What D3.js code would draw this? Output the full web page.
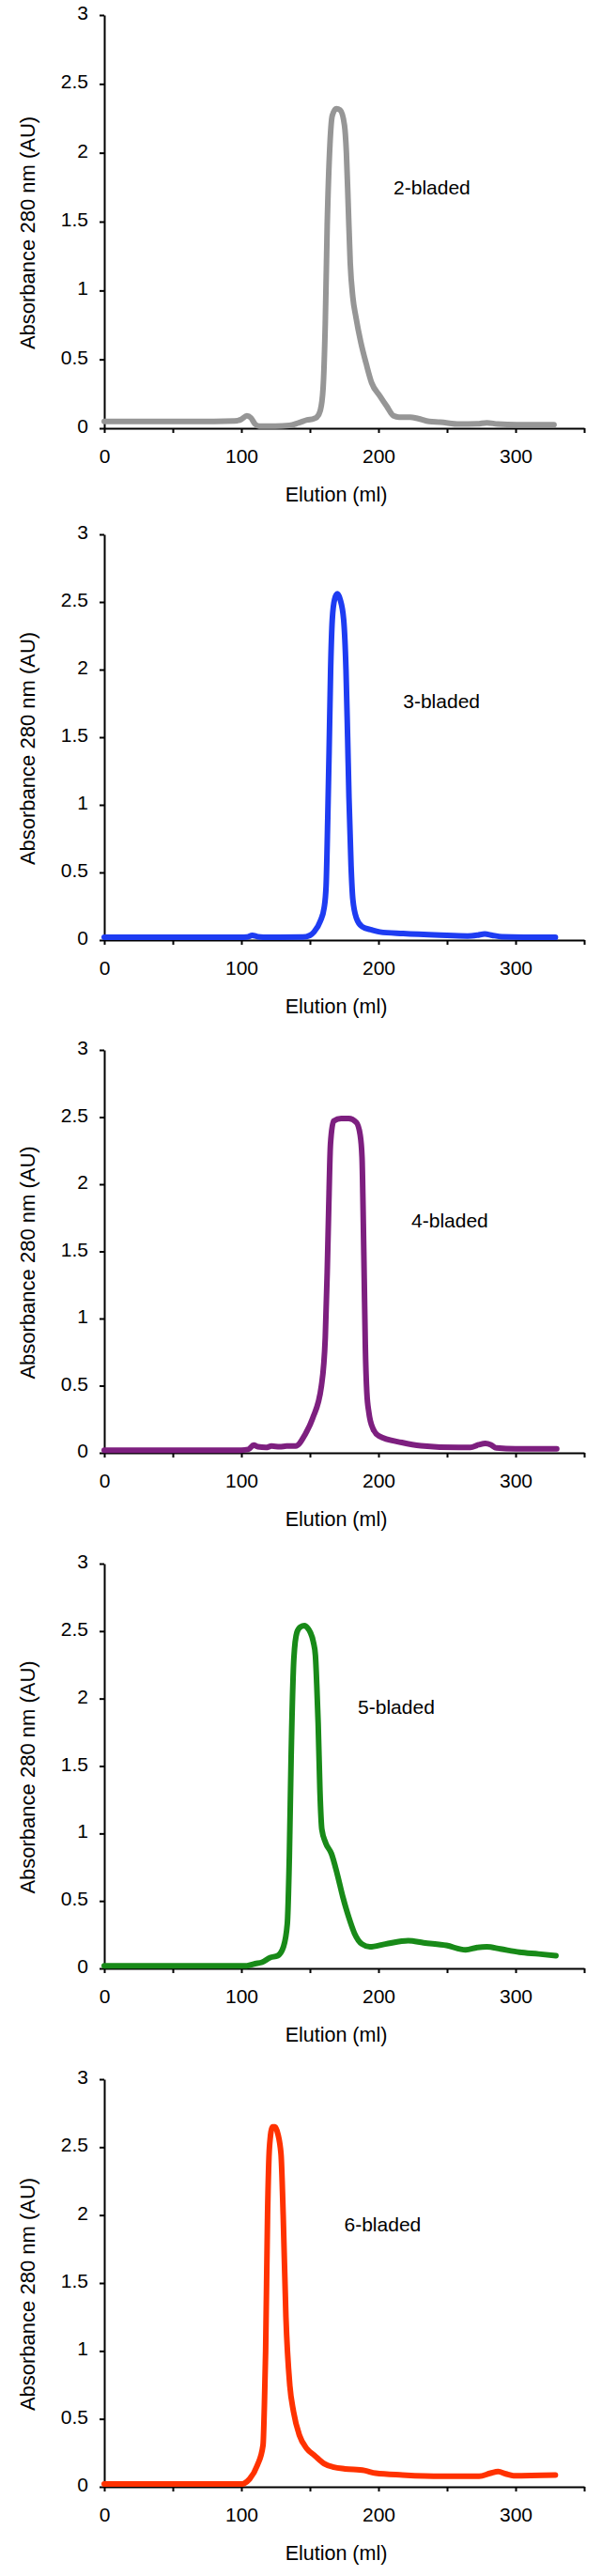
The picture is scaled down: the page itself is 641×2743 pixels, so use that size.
<!DOCTYPE html>
<html>
<head>
<meta charset="utf-8">
<script src="https://cdn.jsdelivr.net/npm/d3@7"></script>
<style>
  body { margin: 0; background: #fff; }
  svg text { font-family: "Liberation Sans", Arial, sans-serif; }
</style>
</head>
<body>
<svg id="chart"></svg>
<script>
// elution volume (ml), absorbance 280 nm (AU)
const blade2 = [[0,0.05],[20,0.05],[50,0.05],[80,0.05],[95,0.052],[100,0.065],[104,0.09],[107,0.075],[110,0.03],[113,0.016],[125,0.015],[135,0.02],[142,0.04],[148,0.06],[153,0.07],[155,0.08],[157.6,0.13],[159.6,0.29],[161.2,0.76],[162.6,1.47],[164.6,2.06],[166.3,2.27],[169.3,2.32],[172,2.31],[175.2,2.2],[176.6,2.0],[178,1.6],[179.4,1.2],[181.3,0.95],[183.5,0.81],[187,0.63],[191,0.47],[195,0.33],[201,0.235],[206,0.16],[211,0.09],[215,0.08],[223,0.08],[229,0.07],[237,0.05],[245,0.045],[259,0.03],[272,0.032],[279,0.04],[287,0.03],[301,0.025],[328,0.025]]
const blade3 = [[0,0.02],[50,0.02],[100,0.02],[104,0.022],[108,0.035],[112,0.025],[120,0.02],[145,0.022],[150,0.035],[153,0.06],[157.6,0.14],[160.4,0.24],[161.8,0.4],[163,0.9],[164,1.4],[165.1,2.0],[166.3,2.37],[168,2.52],[170,2.56],[172,2.52],[174.6,2.37],[176.3,2.0],[177.5,1.5],[178.5,1.05],[180,0.55],[181.3,0.3],[184,0.16],[188,0.1],[195,0.075],[201,0.06],[218,0.048],[245,0.036],[265,0.03],[272,0.036],[277.5,0.045],[283,0.035],[290,0.025],[329,0.02]]
const blade4 = [[0,0.02],[100,0.02],[105,0.025],[109,0.058],[112,0.045],[118,0.04],[122,0.05],[128,0.045],[133,0.05],[139.6,0.05],[146.5,0.137],[152,0.257],[158.4,0.5],[161.2,0.86],[162.6,1.34],[163.7,1.82],[165,2.3],[167.3,2.47],[172.8,2.49],[178.3,2.49],[183.9,2.46],[186.6,2.37],[188,2.2],[188.8,1.8],[189.6,1.3],[190.4,0.8],[191.5,0.45],[193,0.3],[196,0.18],[200.4,0.125],[217,0.077],[231,0.053],[258.5,0.04],[267,0.04],[273,0.06],[278,0.07],[282,0.06],[286,0.036],[300,0.03],[330,0.03]]
const blade5 = [[0,0.02],[100,0.02],[104,0.02],[110,0.035],[115,0.045],[121,0.08],[126.5,0.094],[130.7,0.16],[133.5,0.33],[135,0.83],[136.3,1.57],[138.3,2.3],[140.5,2.49],[143,2.53],[146,2.54],[148.5,2.52],[150.3,2.49],[152.5,2.42],[154,2.32],[155,2.1],[156,1.82],[157.3,1.32],[158.7,1.03],[161.5,0.93],[165.7,0.85],[169.9,0.7],[174,0.53],[178.3,0.38],[182.5,0.26],[188,0.18],[193.7,0.16],[204.9,0.18],[221.7,0.206],[232.9,0.19],[249.6,0.17],[263.6,0.137],[272,0.155],[279,0.16],[288.8,0.144],[302.8,0.12],[316.8,0.107],[329.4,0.094]]
const blade6 = [[0,0.02],[100,0.02],[102,0.025],[106,0.057],[111.6,0.157],[115.8,0.306],[116.8,0.6],[117.7,1.0],[119.1,2.0],[120.5,2.5],[122.7,2.65],[124.5,2.65],[126,2.62],[128.9,2.45],[130.5,2.0],[132.5,1.25],[135.3,0.75],[138,0.555],[142.3,0.38],[147.8,0.28],[153.4,0.23],[160.4,0.17],[167.4,0.144],[175.7,0.132],[189.7,0.12],[198,0.1],[217.6,0.087],[245.5,0.077],[273.4,0.077],[281.7,0.1],[287.3,0.112],[292.9,0.095],[298.5,0.082],[329,0.087]]

const series = [blade2, blade3, blade4, blade5, blade6]
const labels = ["2-bladed", "3-bladed", "4-bladed", "5-bladed", "6-bladed"]
const labelAt = [[211, 1.70], [218, 1.715], [224, 1.68], [185, 1.886], [175, 1.877]]
const colors = ["#969696", "#1e3cf2", "#7d1f7f", "#188a18", "#ff3200"]

const xTicks = [0, 50, 100, 150, 200, 250, 300, 350]
const xTickLabels = [0, 100, 200, 300]
const yTicks = [0, 0.5, 1, 1.5, 2, 2.5, 3]
const xTitle = "Elution (ml)"
const yTitle = "Absorbance 280 nm (AU)"

const width = 641, height = 2743
const left = 111, right = 622
const panelTop = [16, 569, 1118, 1665, 2214]
const panelBottom = [456, 1001, 1547, 2096, 2648]
const font = "'Liberation Sans', Arial, sans-serif"

const svg = d3.select("#chart")
    .attr("width", width)
    .attr("height", height)
svg.append("rect").attr("width", width).attr("height", height).attr("fill", "#fff")

const x = d3.scaleLinear().domain([0, 350]).range([0, right - left])

series.forEach((data, i) => {
  const h = panelBottom[i] - panelTop[i]
  const y = d3.scaleLinear().domain([0, 3]).range([h, 0])
  const g = svg.append("g").attr("transform", "translate(" + left + "," + panelTop[i] + ")")

  const xAxis = g.append("g")
    .attr("transform", "translate(0," + h + ")")
    .call(d3.axisBottom(x).tickValues(xTicks).tickSize(5).tickSizeOuter(0).tickPadding(17)
      .tickFormat(d => xTickLabels.includes(d) ? d : ""))
  const yAxis = g.append("g")
    .call(d3.axisLeft(y).tickValues(yTicks).tickSize(5).tickSizeOuter(0).tickPadding(12)
      .tickFormat(d => d))
  ;[xAxis, yAxis].forEach(a => {
    a.attr("font-family", font).attr("font-size", 21)
    a.selectAll("path, line").attr("stroke", "#000").attr("stroke-width", 2)
    a.selectAll("text").attr("fill", "#000")
  })
  yAxis.selectAll("text").attr("dy", "0.22em")

  const line = d3.line()
    .x(d => x(d[0]))
    .y(d => y(d[1]))
    .curve(d3.curveMonotoneX)
  g.append("path")
    .datum(data)
    .attr("d", line)
    .attr("fill", "none")
    .attr("stroke", colors[i])
    .attr("stroke-width", 6)
    .attr("stroke-linejoin", "round")
    .attr("stroke-linecap", "round")

  g.append("text")
    .attr("x", x(labelAt[i][0]))
    .attr("y", y(labelAt[i][1]))
    .attr("font-size", 21)
    .text(labels[i])

  g.append("text")
    .attr("x", 358 - left)
    .attr("y", h + 78)
    .attr("text-anchor", "middle")
    .attr("font-size", 21.5)
    .text(xTitle)

  g.append("text")
    .attr("transform", "translate(" + (37 - left) + "," + (h / 2 + 12) + ") rotate(-90)")
    .attr("text-anchor", "middle")
    .attr("font-size", 22)
    .text(yTitle)
})
</script>
</body>
</html>
